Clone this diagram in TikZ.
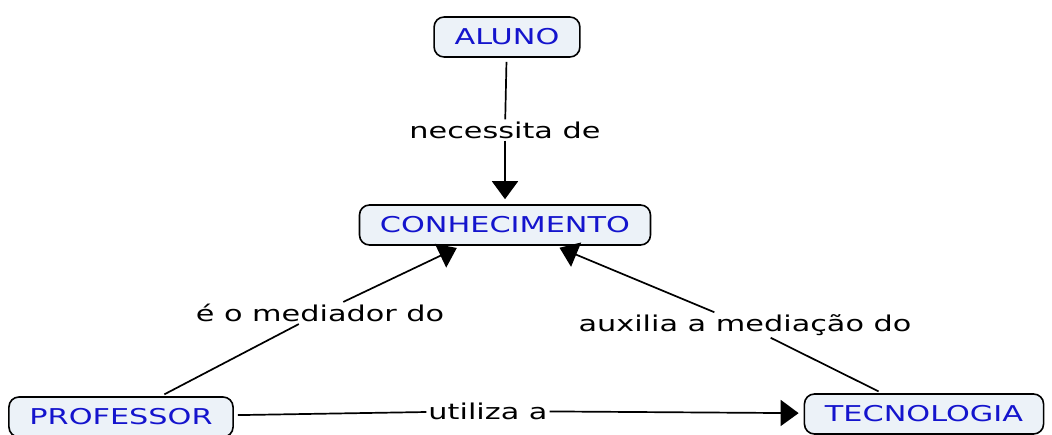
\documentclass[tikz,border=0pt]{standalone}
\usepackage{fontspec}
\setmainfont{DejaVu Sans}[FakeStretch=1.39]
\usetikzlibrary{arrows.meta}
\definecolor{boxfill}{RGB}{236,242,248}
\definecolor{boxtext}{RGB}{20,20,205}
\begin{document}
\begin{tikzpicture}[x=1pt,y=-1pt,
  concept/.style={draw=black,line width=1.6pt,rounded corners=10pt,fill=boxfill,
    text=boxtext,font=\fontsize{21.8}{24}\selectfont,inner xsep=20.5pt,minimum height=40pt,inner ysep=4pt},
  linklabel/.style={font=\fontsize{21.8}{24}\selectfont,inner sep=2pt,text=black},
  conn/.style={line width=1.7pt,black,shorten <=4pt},
  arr/.style={line width=1.7pt,black,shorten >=5pt,-{Triangle[length=18pt,width=26pt]}}]
\useasboundingbox (0,0) rectangle (1052,434);
\node[concept] (aluno) at (507,37) {ALUNO};
\node[concept] (conh) at (505,225) {CONHECIMENTO};
\node[concept] (prof) at (121,417) {PROFESSOR};
\node[concept] (tec) at (924,414) {TECNOLOGIA};
\node[linklabel] (l1) at (505,130) {necessita de};
\node[linklabel] (l2) at (320,313) {é o mediador do};
\node[linklabel] (l3) at (745,325) {auxilia a mediação do};
\node[linklabel] (l4) at (488,411) {utiliza a};
\draw[conn] (aluno) -- (l1);
\draw[arr] (l1) -- (conh);
\draw[conn] (prof) -- (l2);
\draw[arr] (l2) -- (conh);
\draw[conn] (tec) -- (l3);
\draw[arr] (l3) -- (conh);
\draw[conn] (prof) -- (l4);
\draw[arr] (l4) -- (tec);
\end{tikzpicture}
\end{document}
